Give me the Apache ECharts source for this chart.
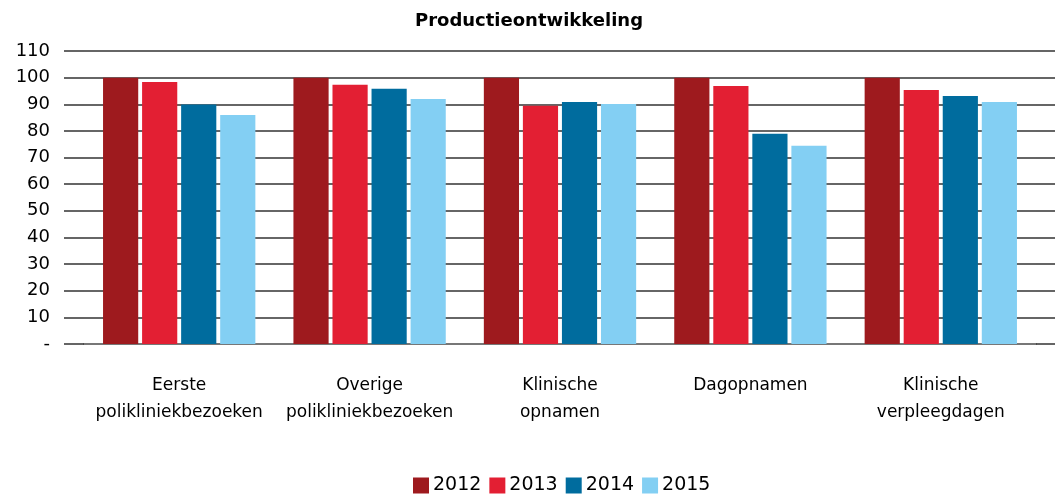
<!DOCTYPE html>
<html>
<head>
<meta charset="utf-8">
<script src="https://cdn.jsdelivr.net/npm/echarts@6/dist/echarts.min.js"></script>
<style>
  html, body { margin: 0; padding: 0; background: #fff; }
  #main { width: 1058px; height: 496px; }
</style>
</head>
<body>
<div id="main"></div>
<script>
// categorieen en waarden (index 2012 = 100)
const categories = ['Eerste\npolikliniekbezoeken', 'Overige\npolikliniekbezoeken', 'Klinische\nopnamen', 'Dagopnamen', 'Klinische\nverpleegdagen'];
const years = ['2012', '2013', '2014', '2015'];
const v2012 = [100, 100, 100, 100, 100];
const v2013 = [98.4, 97.3, 89.4, 96.9, 95.4];
const v2014 = [89.9, 95.8, 90.9, 78.9, 93.1];
const v2015 = [86.0, 92.0, 90.1, 74.4, 90.9];
const colors = ['#9e1a1e', '#e31f33', '#006c9e', '#83cff3'];

const chartDom = document.getElementById('main');
const myChart = echarts.init(chartDom);
const font = 'DejaVu Sans';
const gridLine = { color: '#333', width: 1.5 };

const seriesData = [v2012, v2013, v2014, v2015];
const series = years.map((y, i) => ({
  name: y,
  type: 'bar',
  data: seriesData[i],
  barGap: '11%',
  barCategoryGap: '20%',
  itemStyle: { color: colors[i] }
}));

const option = {
  animation: false,
  title: {
    text: 'Productieontwikkeling',
    left: 'center',
    top: 12,
    padding: [0, 0, 0, 20],
    textStyle: { fontFamily: font, fontSize: 18, fontWeight: 'bold', color: '#000' }
  },
  legend: {
    data: years,
    top: 476,
    left: 413,
    padding: 0,
    itemWidth: 16,
    itemHeight: 16,
    itemGap: 8,
    icon: 'rect',
    textStyle: { fontFamily: font, fontSize: 19, color: '#000', padding: [0, 0, 0, -1] }
  },
  grid: { left: 84, right: 22, top: 51, bottom: 152, containLabel: false },
  xAxis: {
    type: 'category',
    data: categories,
    axisTick: { show: false },
    axisLine: { lineStyle: { color: '#777', width: 2 } },
    axisLabel: {
      interval: 0,
      fontFamily: font, fontSize: 17, color: '#000',
      margin: 28, lineHeight: 27, verticalAlign: 'top'
    }
  },
  yAxis: [
    {
      type: 'value',
      min: 0,
      max: 110,
      interval: 10,
      axisLine: { show: false },
      // ticks naar links verlengen zodat de rasterlijnen doorlopen
      axisTick: { show: true, length: 20, lineStyle: gridLine },
      splitLine: { lineStyle: gridLine },
      axisLabel: {
        fontFamily: font, fontSize: 18, color: '#000', margin: 34,
        formatter: v => (v === 0 ? '-' : v)
      }
    },
    {
      type: 'value',
      position: 'right',
      min: 0,
      max: 110,
      interval: 10,
      axisLine: { show: false },
      axisTick: { show: true, length: 19, lineStyle: gridLine },
      splitLine: { show: false },
      axisLabel: { show: false }
    }
  ],
  series: series
};

myChart.setOption(option);
</script>
</body>
</html>
